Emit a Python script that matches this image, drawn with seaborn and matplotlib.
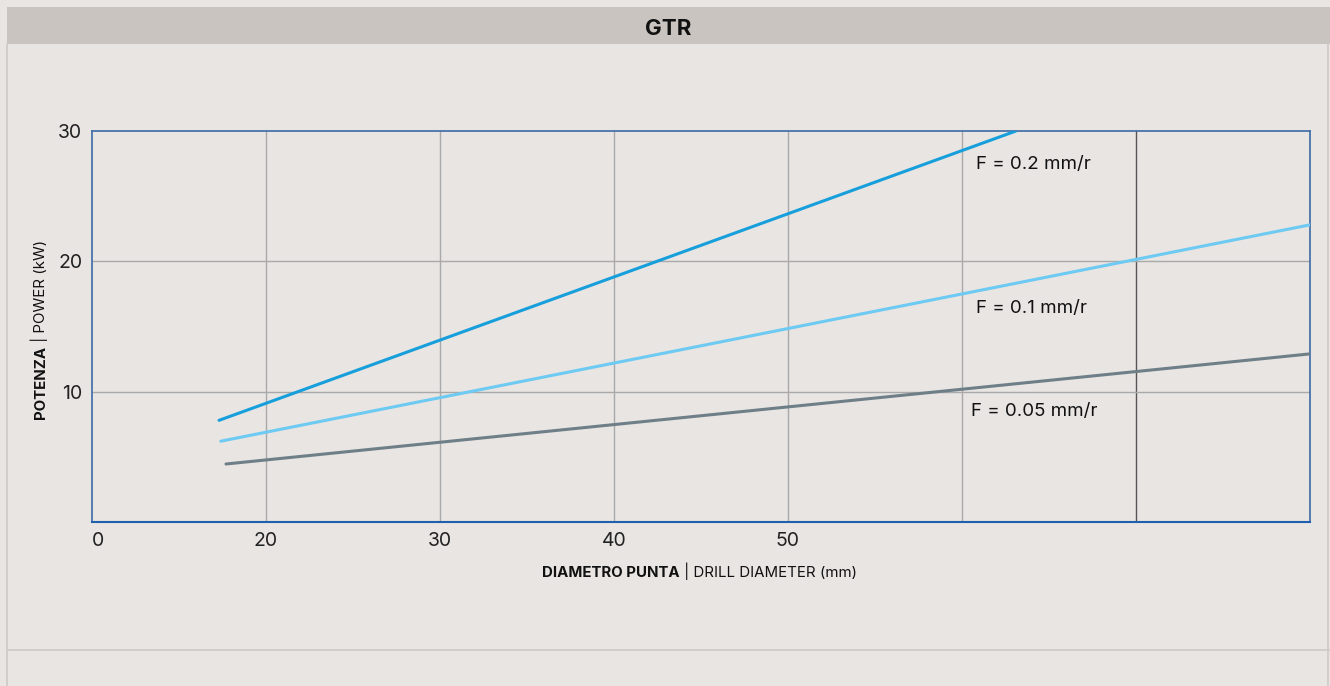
import matplotlib
matplotlib.use("Agg")
import matplotlib.pyplot as plt
import seaborn as sns
import pandas as pd
from matplotlib.patches import Rectangle
from matplotlib.lines import Line2D

# ---- data ----
series_names = ["F = 0.2 mm/r", "F = 0.1 mm/r", "F = 0.05 mm/r"]
x_f02 = [17.3, 63.1]
y_f02 = [7.8, 30.0]
x_f01 = [17.4, 80.0]
y_f01 = [6.2, 22.8]
x_f005 = [17.7, 80.0]
y_f005 = [4.45, 12.9]
label_x = [60.8, 60.8, 60.5]
label_y = [27.4, 16.4, 8.5]
xtick_pos = [10, 20, 30, 40, 50]
xtick_labels = ["0", "20", "30", "40", "50"]
ytick_pos = [10, 20, 30]
ytick_labels = ["10", "20", "30"]
vgrid = [20, 30, 40, 50, 60]
vgrid_dark = [70]
hgrid = [10, 20]

df = pd.DataFrame({
    "x": x_f02 + x_f01 + x_f005,
    "y": y_f02 + y_f01 + y_f005,
    "s": [series_names[0]] * 2 + [series_names[1]] * 2 + [series_names[2]] * 2,
})

sns.set_theme(style="white")
plt.rcParams["font.family"] = ["Inter", "DejaVu Sans"]

BG = "#e8e5e3"
fig = plt.figure(figsize=(13.3, 6.86), dpi=100, facecolor=BG)

# panel decorations (figure coords)
W, H = 1330, 686
fig.patches.append(Rectangle((7 / W, 1 - 44 / H), (W - 7) / W, 37 / H,
                             transform=fig.transFigure, facecolor="#c9c4c0",
                             edgecolor="none", zorder=0))
fig.lines.append(Line2D([7 / W, 7 / W], [0, 1 - 44 / H], transform=fig.transFigure,
                        color="#cfcac7", lw=1.2))
fig.lines.append(Line2D([1328 / W, 1328 / W], [0, 1 - 44 / H], transform=fig.transFigure,
                        color="#cfcac7", lw=1.2))
fig.lines.append(Line2D([7 / W, 1], [1 - 650 / H, 1 - 650 / H], transform=fig.transFigure,
                        color="#cfcac7", lw=1.2))
fig.text(0.5025, 1 - 29 / H, "GTR", ha="center", va="center", fontsize=16,
         fontweight="bold", color="#111111")

ax = fig.add_axes([92 / W, 1 - 522 / H, (1310 - 92) / W, (522 - 131) / H])
ax.set_facecolor(BG)

palette = {series_names[0]: "#179fdc", series_names[1]: "#6dcaf2",
           series_names[2]: "#6f7f88"}
sns.lineplot(data=df, x="x", y="y", hue="s", palette=palette, ax=ax,
             legend=False, linewidth=2.2, zorder=3)

for v in vgrid:
    ax.axvline(v, color="#a9a9a9", lw=1.0, zorder=1)
for v in vgrid_dark:
    ax.axvline(v, color="#555555", lw=1.0, zorder=1)
for h in hgrid:
    ax.axhline(h, color="#a9a9a9", lw=1.0, zorder=1)

ax.set_xlim(10, 80)
ax.set_ylim(0, 30)
ax.set_xticks(xtick_pos)
ax.set_xticklabels(xtick_labels)
ax.set_yticks(ytick_pos)
ax.set_yticklabels(ytick_labels)
ax.get_xticklabels()[0].set_horizontalalignment("left")
ax.tick_params(axis="both", length=0, labelsize=14, colors="#222222")
ax.tick_params(axis="x", pad=7)
ax.tick_params(axis="y", pad=7)
ax.set_xlabel("")
ax.set_ylabel("")

for side in ["left", "top", "right"]:
    ax.spines[side].set_color("#3a6aa5")
    ax.spines[side].set_linewidth(1.2)
ax.spines["bottom"].set_color("#1f5fae")
ax.spines["bottom"].set_linewidth(1.5)

for name, lx, ly in zip(series_names, label_x, label_y):
    ax.text(lx, ly, name, ha="left", va="center", fontsize=13.5, color="#111111")

# axis labels with mixed weight
fig.text(680 / W, 1 - 577 / H, "DIAMETRO PUNTA", ha="right", va="baseline",
         fontsize=10.8, fontweight="bold", color="#111111")
fig.text(680 / W, 1 - 577 / H, " | DRILL DIAMETER (mm)", ha="left", va="baseline",
         fontsize=10.8, color="#111111")
fig.text(45 / W, 1 - 346 / H, "POTENZA", ha="right", va="baseline", rotation=90,
         rotation_mode="anchor", fontsize=10.8, fontweight="bold", color="#111111")
fig.text(45 / W, 1 - 346 / H, " | POWER (kW)", ha="left", va="baseline", rotation=90,
         rotation_mode="anchor", fontsize=10.8, color="#111111")

fig.savefig("out.png", dpi=100, facecolor=BG)
